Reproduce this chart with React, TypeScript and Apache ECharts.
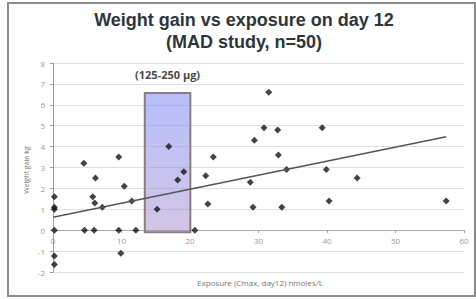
import React, { useEffect, useRef } from "react";
import * as echarts from "echarts";

// Exposure (Cmax, day12) nmoles/L
const exposure = [
  0.2, 0.2, 0.2, 0.2, 0.2, 0.2,
  4.5, 9.6, 6.2, 10.4, 5.8, 6.1, 7.2, 11.5, 4.6, 6.0, 9.6, 12.1, 9.9,
  16.9, 19.1, 18.2, 15.2,
  23.4, 22.3, 22.6, 20.7,
  31.5, 30.8, 32.8, 39.3, 29.4, 32.9, 34.1, 39.9, 28.8, 44.4, 40.3, 29.2, 33.4, 57.4,
];
// Weight gain kg
const weightGain = [
  1.6, 1.1, 1.0, 0, -1.23, -1.64,
  3.2, 3.5, 2.5, 2.1, 1.6, 1.3, 1.1, 1.4, 0, 0, 0, 0, -1.1,
  4.0, 2.8, 2.4, 1.0,
  3.5, 2.6, 1.25, 0,
  6.6, 4.9, 4.8, 4.9, 4.3, 3.6, 2.9, 2.9, 2.3, 2.5, 1.4, 1.1, 1.1, 1.4,
];
// Linear trend line end points
const trendX = [0, 57.4];
const trendY = [0.62, 4.47];
// Highlighted dose range box (exposure from/to, gain from/to)
const boxX = [13.4, 20.05];
const boxY = [-0.1, 6.57];
const boxLabel = "(125-250 µg)";

const titleLines = ["Weight gain vs exposure on day 12", "(MAD study, n=50)"];
const xAxisTitle = "Exposure (Cmax, day12) nmoles/L";
const yAxisTitle = "Weight gain kg";

export default function App() {
  const ref = useRef<HTMLDivElement>(null);
  useEffect(() => {
    if (!ref.current) return;
    const chart = echarts.init(ref.current, undefined, { renderer: "svg" });
    const points = exposure.map((x, i) => [x, weightGain[i]]);
    const trend = trendX.map((x, i) => [x, trendY[i]]);
    chart.setOption({
      animation: false,
      backgroundColor: "#ffffff",
      grid: { left: 53, right: 12, top: 63, bottom: 27, containLabel: false },
      xAxis: {
        type: "value",
        min: 0,
        max: 60,
        interval: 10,
        offset: -42,
        axisLine: { onZero: false, lineStyle: { color: "#a8a8a8", width: 1 } },
        axisTick: { show: true, length: 3, lineStyle: { color: "#a8a8a8" } },
        axisLabel: { color: "#9a9a9a", fontSize: 8, margin: 6, fontFamily: "Open Sans" },
        splitLine: { show: false },
      },
      yAxis: {
        type: "value",
        min: -2,
        max: 8,
        interval: 1,
        axisLine: { show: true, onZero: false, lineStyle: { color: "#a0a0a0", width: 1 } },
        axisTick: { show: true, length: 3, lineStyle: { color: "#a0a0a0" } },
        axisLabel: { color: "#9a9a9a", fontSize: 8, margin: 8, fontFamily: "Open Sans" },
        splitLine: { show: true, lineStyle: { color: "#dde1e6", width: 1 } },
      },
      series: [
        {
          type: "scatter",
          data: points,
          symbol: "diamond",
          symbolSize: 7,
          itemStyle: { color: "#151515" },
          z: 2,
        },
        {
          type: "line",
          data: trend,
          symbol: "none",
          lineStyle: { color: "#555555", width: 1.5 },
          z: 3,
        },
        {
          type: "scatter",
          data: [],
          z: 5,
          markArea: {
            silent: true,
            itemStyle: {
              color: new echarts.graphic.LinearGradient(0, 0, 0, 1, [
                { offset: 0, color: "rgba(110,125,245,0.5)" },
                { offset: 1, color: "rgba(165,140,205,0.5)" },
              ]),
              borderColor: "#8e7c7c",
              borderWidth: 2,
            },
            label: {
              show: true,
              position: "top",
              distance: 12,
              formatter: boxLabel,
              color: "#4a4a4a",
              fontSize: 11,
              fontWeight: "bold",
              fontFamily: "Open Sans",
            },
            data: [[{ coord: [boxX[0], boxY[0]] }, { coord: [boxX[1], boxY[1]] }]],
          },
        },
      ],
      graphic: [
        {
          type: "rect",
          shape: { x: 8, y: 3, width: 467, height: 293 },
          style: { fill: "none", stroke: "#8c8c8c", lineWidth: 2 },
          z: 0,
        },
        {
          type: "text",
          x: 244,
          y: 20,
          style: {
            text: titleLines[0],
            textAlign: "center",
            textVerticalAlign: "middle",
            fontSize: 18,
            fontWeight: "bold",
            fontFamily: "Liberation Sans",
            fill: "#2e363c",
          },
        },
        {
          type: "text",
          x: 244,
          y: 42,
          style: {
            text: titleLines[1],
            textAlign: "center",
            textVerticalAlign: "middle",
            fontSize: 18,
            fontWeight: "bold",
            fontFamily: "Liberation Sans",
            fill: "#2e363c",
          },
        },
        {
          type: "text",
          x: 260,
          y: 282,
          style: {
            text: xAxisTitle,
            textAlign: "center",
            textVerticalAlign: "middle",
            fontSize: 8,
            fontFamily: "Open Sans",
            fill: "#777777",
          },
        },
        {
          type: "text",
          x: 26,
          y: 170,
          rotation: Math.PI / 2,
          style: {
            text: yAxisTitle,
            textAlign: "center",
            textVerticalAlign: "middle",
            fontSize: 7,
            fontFamily: "Open Sans",
            fill: "#777777",
          },
        },
      ],
    });
    return () => chart.dispose();
  }, []);
  return (
    <div
      ref={ref}
      style={{ position: "fixed", left: 0, top: 0, width: 476, height: 299, background: "#fff" }}
    />
  );
}
